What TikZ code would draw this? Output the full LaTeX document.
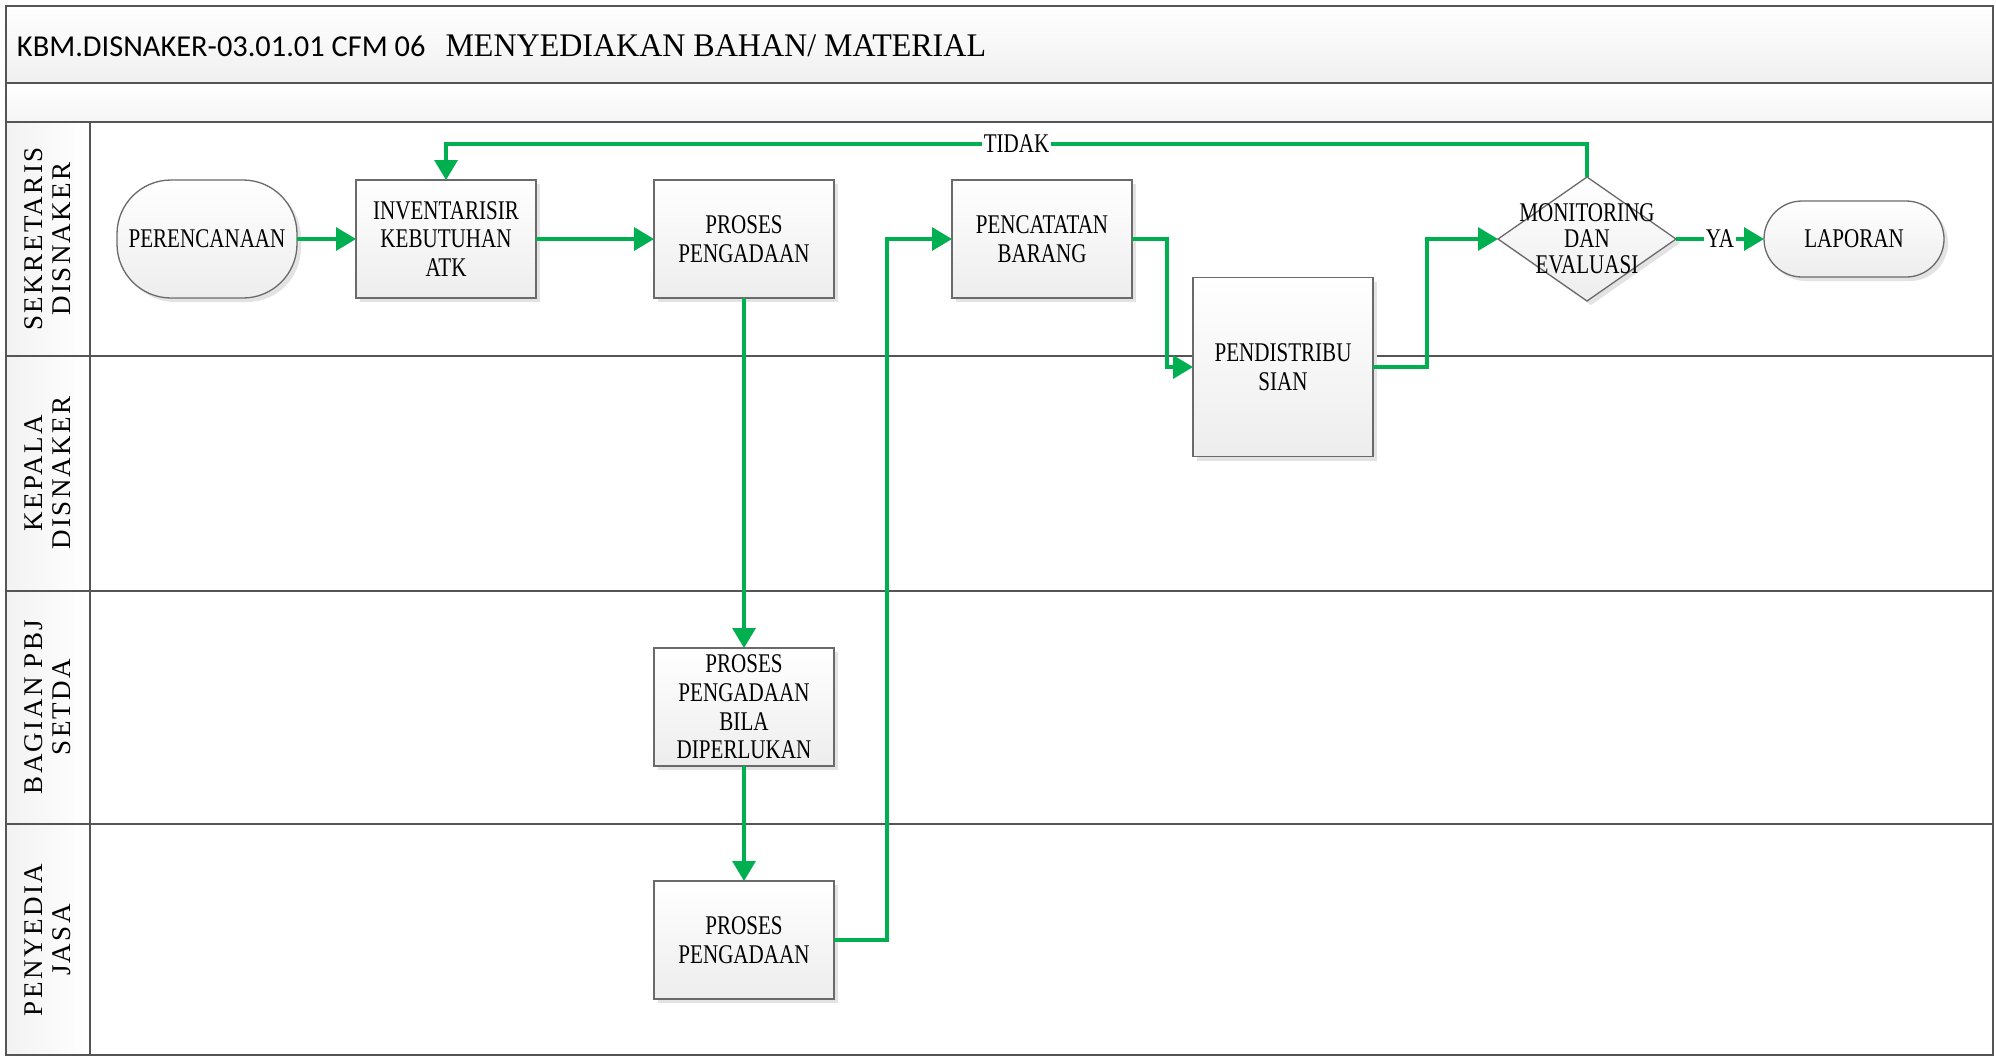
\documentclass[tikz,border=0pt]{standalone}
\usepackage{fontspec}
\setmainfont{Liberation Serif}
\newfontfamily\nodefont{Liberation Serif}[FakeStretch=0.78]
\newfontfamily\lanefont{Liberation Serif}[LetterSpace=9]
\newfontfamily\titlesans{Carlito}
\newfontfamily\titleserif{Liberation Serif}[FakeStretch=0.97]
\usetikzlibrary{shapes.geometric,arrows.meta,shadows}
\definecolor{flowgreen}{HTML}{00B050}
\definecolor{framegray}{HTML}{555555}
\definecolor{boxline}{HTML}{6A6A6A}
\begin{document}
\begin{tikzpicture}[x=0.5pt,y=-0.5pt,
  every node/.style={inner sep=0pt, outer sep=0pt},
  txt/.style={align=center, font=\nodefont\fontsize{13.5}{14.3}\selectfont},
  softshadow/.style={drop shadow={shadow xshift=2pt, shadow yshift=-2pt, fill=black!11, opacity=1}},
  box/.style={txt, draw=boxline, line width=0.65pt, top color=white, bottom color=gray!14,
    softshadow, minimum width=90pt, minimum height=59pt},
  terminal/.style={box, rounded corners=27pt},
  decision/.style={diamond, draw=boxline, line width=0.65pt, top color=white, bottom color=gray!14,
    softshadow, minimum width=89pt, minimum height=62pt},
  lanelabel/.style={rotate=90, align=center, font=\lanefont\fontsize{13.5}{14}\selectfont},
  flow/.style={draw=flowgreen, line width=1.65pt, -{Triangle[length=10pt,width=11.5pt]}},
  flowtag/.style={txt, fill=white, inner sep=1pt},
  lane/.style={draw=framegray, line width=1pt}
]
\useasboundingbox (0,0) rectangle (1996,1057);
\fill[white] (0,0) rectangle (1996,1057);

% title bands and lane header column
\shade[top color=white, bottom color=gray!12] (6,6) rectangle (1993,83);
\shade[top color=white, bottom color=gray!8] (6,83) rectangle (1993,122);
\shade[left color=gray!10, right color=white] (6,122) rectangle (90,1055);

% frame and lane separators
\draw[lane] (6,6) rectangle (1993,1055);
\draw[lane] (6,83) -- (1993,83);
\draw[lane] (6,122) -- (1993,122);
\draw[lane] (6,356) -- (1993,356);
\draw[lane] (6,591) -- (1993,591);
\draw[lane] (6,824) -- (1993,824);
\draw[lane] (90,122) -- (90,1055);

% title
\node[anchor=west] (title) at (17,46)
  {\titlesans\fontsize{15.2}{18}\selectfont KBM.DISNAKER-03.01.01 CFM 06\hspace{10pt}%
   \titleserif\fontsize{16.5}{18}\selectfont MENYEDIAKAN BAHAN/ MATERIAL};

% lane names
\node[lanelabel] (lane1) at (48,239) {SEKRETARIS\\DISNAKER};
\node[lanelabel] (lane2) at (48,473) {KEPALA\\DISNAKER};
\node[lanelabel] (lane3) at (48,707) {BAGIAN PBJ\\SETDA};
\node[lanelabel] (lane4) at (48,940) {PENYEDIA\\JASA};

% process steps
\node[terminal] (per) at (207,239) {PERENCANAAN};
\node[box] (inv) at (446,239) {INVENTARISIR\\KEBUTUHAN\\ATK};
\node[box] (pp1) at (744,239) {PROSES\\PENGADAAN};
\node[box] (pc) at (1042,239) {PENCATATAN\\BARANG};
\node[box, minimum height=89.5pt] (pd) at (1283,367) {PENDISTRIBU\\SIAN};
\node[decision] (mon) at (1587,239) {};
\node[txt, font=\nodefont\fontsize{13.5}{13}\selectfont] (monlabel) at (mon) {MONITORING\\DAN\\EVALUASI};
\node[terminal, minimum height=38pt, rounded corners=19pt] (lap) at (1854,239) {LAPORAN};
\node[box] (bila) at (744,707) {PROSES\\PENGADAAN\\BILA\\DIPERLUKAN};
\node[box] (pp2) at (744,940) {PROSES\\PENGADAAN};

% connectors
\draw[flow] (per) -- (inv);
\draw[flow] (inv) -- (pp1);
\draw[flow] (pp1) -- (bila);
\draw[flow] (bila) -- (pp2);
\draw[flow] (pp2.east) -- ++(53,0) |- (pc.west);
\draw[flow] (pc.east) -- ++(35,0) |- (pd.west);
\draw[flow] (pd.east) -- ++(54,0) |- (mon.west);
\draw[flow] (mon.east) -- node[flowtag] (ya) {YA} (lap.west);
\draw[flow] (mon.north) -- ++(0,-33) -| node[flowtag, pos=0.25] (tidak) {TIDAK} (inv.north);
\end{tikzpicture}
\end{document}
